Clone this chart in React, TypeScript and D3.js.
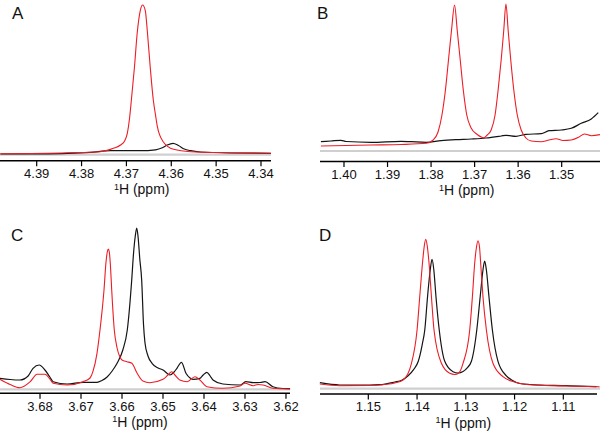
import React from "react";
import * as d3 from "d3";

type Pt = [number, number];

// Panel A (ppm, intensity)
const aRed: Pt[] = [[4.3981,0.6],[4.3831,1.6],[4.3758,2.6],[4.3729,6],[4.3713,9.3],[4.3704,13.3],[4.3698,21],[4.3693,36],[4.3689,54],[4.3682,87.6],[4.3676,121],[4.3669,144],[4.3664,149.3],[4.3658,144],[4.3653,121],[4.3647,87.6],[4.3640,54],[4.3635,39],[4.3631,27.6],[4.3618,12.6],[4.3595,5],[4.3557,2.6],[4.3468,1.6],[4.3378,1]];
const aBlack: Pt[] = [[4.3981,0.3],[4.3892,0.5],[4.3831,1],[4.3780,2],[4.3736,3.6],[4.3669,3.6],[4.3635,4.5],[4.3620,6.5],[4.3609,9.3],[4.3596,11],[4.3584,8.8],[4.3571,5.3],[4.3557,3.6],[4.3535,2.3],[4.3468,1.3],[4.3378,1]];

// Panel B
const bRed: Pt[] = [[1.4053,4.7],[1.3995,5.2],[1.3938,5.7],[1.3869,6.2],[1.3811,7.4],[1.3795,10.7],[1.3784,18.7],[1.3775,35.7],[1.3767,60.7],[1.3760,90.7],[1.3753,120.7],[1.3746,145.7],[1.3740,120.7],[1.3733,90.7],[1.3726,60.7],[1.3718,35.7],[1.3708,22.7],[1.3694,16.2],[1.3679,13],[1.3671,15.7],[1.3662,20.7],[1.3653,35.7],[1.3646,60.7],[1.3639,90.7],[1.3633,120.7],[1.3628,146.7],[1.3623,120.7],[1.3617,90.7],[1.3610,60.7],[1.3602,35.7],[1.3593,20.7],[1.3582,12.7],[1.3570,9.7],[1.3547,9],[1.3529,10.7],[1.3513,12],[1.3497,10.2],[1.3478,10.7],[1.3460,13.7],[1.3448,16.7],[1.3432,15],[1.3409,16.4]];
const bBlack: Pt[] = [[1.4053,9],[1.4030,9.7],[1.4007,10.4],[1.3995,9.2],[1.3938,8.4],[1.3869,9.4],[1.3846,9],[1.3811,8.4],[1.3777,10],[1.3743,11],[1.3708,11.7],[1.3674,12.7],[1.3639,14.7],[1.3628,15.4],[1.3605,14.4],[1.3582,16.4],[1.3547,17],[1.3529,20],[1.3501,20.7],[1.3478,22.4],[1.3455,27.4],[1.3432,31.7],[1.3416,38]];

// Panel C
const cRed: Pt[] = [[3.6898,9.7],[3.6873,4.5],[3.6849,1.3],[3.6824,7.3],[3.6807,14.7],[3.6788,14.7],[3.6776,10],[3.6768,5.7],[3.6734,4],[3.6695,7.3],[3.6678,11],[3.6671,17.3],[3.6661,35.7],[3.66537,59],[3.66439,99],[3.6639,127],[3.66359,137],[3.66334,140],[3.6631,137],[3.6628,122],[3.66251,99],[3.66188,59],[3.6612,41],[3.6605,32],[3.6600,29],[3.6588,27.3],[3.6576,25.7],[3.6563,15.7],[3.6549,8],[3.6532,6.3],[3.6500,9.7],[3.6488,14],[3.6479,17.3],[3.6471,14],[3.6459,9],[3.6441,7.3],[3.6422,12.3],[3.6410,9],[3.6393,2.3],[3.6354,0.7],[3.6312,3],[3.6300,5.7],[3.6280,3.3],[3.6268,4.5],[3.6256,4],[3.6232,0.7],[3.6190,0]];
const cBlack: Pt[] = [[3.6898,10.7],[3.6873,9.5],[3.6849,9],[3.6829,13],[3.6817,20.7],[3.6802,24],[3.6788,19],[3.6776,12],[3.6768,7.3],[3.6734,5],[3.6695,6.7],[3.6661,6.7],[3.6649,8.5],[3.6637,11.7],[3.6624,18],[3.6612,25.7],[3.6598,39],[3.65871,59],[3.65763,109],[3.6572,135],[3.65676,153],[3.65641,161],[3.6561,153],[3.65566,130],[3.6552,109],[3.65476,65],[3.65439,46],[3.65366,33],[3.65268,25.7],[3.6512,21],[3.6500,19],[3.6483,14],[3.6473,17],[3.6466,20.7],[3.6455,26.7],[3.6444,15.7],[3.6434,11],[3.6427,9.7],[3.6410,10.7],[3.6402,14],[3.6393,16.7],[3.6385,13],[3.6378,9],[3.6354,5],[3.6312,4],[3.6298,7.3],[3.6280,6.3],[3.6263,6.5],[3.6251,7.3],[3.6232,2.3],[3.6207,0.5],[3.6190,0.3]];

// Panel D
const dRed: Pt[] = [[1.15994,4.3],[1.15584,2.6],[1.14969,2.8],[1.14662,3.8],[1.14457,5.3],[1.14287,8.3],[1.14115,25],[1.14,58.3],[1.13945,91.6],[1.13889,125],[1.13852,142.3],[1.13822,149],[1.13791,142.3],[1.13754,125],[1.13705,91.6],[1.13652,58.3],[1.135,25],[1.1333,15],[1.13227,13.8],[1.13145,15.3],[1.13057,25],[1.1292,58.3],[1.12865,91.6],[1.12818,125],[1.12781,141.3],[1.1275,147.6],[1.12719,141.3],[1.12695,125],[1.12648,91.6],[1.12578,58.3],[1.12443,25],[1.12238,11.6],[1.11998,6.3],[1.11752,3.8],[1.11383,2.8],[1.10932,2.3],[1.10256,1.6]];
const dBlack: Pt[] = [[1.15994,5.6],[1.15584,3.3],[1.15174,3.1],[1.14764,3.6],[1.14457,6.3],[1.14314,8],[1.14184,12.5],[1.14068,19],[1.13975,27],[1.13893,44],[1.13842,58.3],[1.13785,91.6],[1.1373,118.3],[1.13693,129],[1.13656,118.3],[1.13612,91.6],[1.13545,58.3],[1.13432,27],[1.13262,16.6],[1.1316,15.3],[1.13057,16.8],[1.12971,20.5],[1.12885,27],[1.12775,58.3],[1.12705,91.6],[1.12648,118.3],[1.12613,127.3],[1.12578,118.3],[1.12525,91.6],[1.12455,58.3],[1.1234,27],[1.12168,12.5],[1.1206,8.3],[1.11895,4.8],[1.11691,3.8],[1.10932,2.6],[1.10318,1.6]];

const aTicks = [4.39, 4.38, 4.37, 4.36, 4.35, 4.34];
const bTicks = [1.40, 1.39, 1.38, 1.37, 1.36, 1.35];
const cTicks = [3.68, 3.67, 3.66, 3.65, 3.64, 3.63, 3.62];
const dTicks = [1.15, 1.14, 1.13, 1.12, 1.11];

const panelLabels = ["A", "B", "C", "D"];

const RED = "#ee1c25";
const BLACK = "#141414";
const FONT = "'Liberation Sans', Arial, sans-serif";

interface PanelCfg {
  label: string;
  red: Pt[];
  black: Pt[];
  ticks: number[];
  domain: [number, number];
  x0: number;
  x1: number;
  greyX1: number;
  base: number;
  axisY: number;
  titleX: number;
  labelX: number;
  labelY: number;
}

const panels: PanelCfg[] = [
  { label: panelLabels[0], red: aRed, black: aBlack, ticks: aTicks, domain: [4.39818, 4.33777], x0: 0, x1: 271, greyX1: 271, base: 154.3, axisY: 160.7, titleX: 141.7, labelX: 12, labelY: 18.5 },
  { label: panelLabels[1], red: bRed, black: bBlack, ticks: bTicks, domain: [1.40551, 1.3412], x0: 320, x1: 600, greyX1: 600, base: 150.7, axisY: 161.5, titleX: 466.7, labelX: 317, labelY: 18.5 },
  { label: panelLabels[2], red: cRed, black: cBlack, ticks: cTicks, domain: [3.68976, 3.61902], x0: 0, x1: 290, greyX1: 290, base: 389, axisY: 393.3, titleX: 140, labelX: 11, labelY: 241 },
  { label: panelLabels[3], red: dRed, black: dBlack, ticks: dTicks, domain: [1.15991, 1.10309], x0: 320, x1: 597, greyX1: 600, base: 388.3, axisY: 394, titleX: 463.3, labelX: 319, labelY: 240.5 },
];

function Panel({ p }: { p: PanelCfg }) {
  const x = d3.scaleLinear().domain(p.domain).range([p.x0, p.x1]);
  const y = d3.scaleLinear().domain([0, 150]).range([p.base, p.base - 150]);
  const line = d3
    .line<Pt>()
    .x((d) => x(d[0]))
    .y((d) => y(d[1]))
    .curve(d3.curveMonotoneX);
  return (
    <g>
      <line x1={p.x0} x2={p.greyX1} y1={p.base + 0.3} y2={p.base + 0.3} stroke="#cfcfcf" strokeWidth={2.2} />
      <path d={line(p.black) || ""} fill="none" stroke={BLACK} strokeWidth={1.2} strokeLinejoin="round" />
      <path d={line(p.red) || ""} fill="none" stroke={RED} strokeWidth={1.1} strokeLinejoin="round" />
      <line x1={p.x0} x2={p.x1} y1={p.axisY} y2={p.axisY} stroke="#000" strokeWidth={1.4} />
      {p.ticks.map((t) => (
        <g key={t} transform={`translate(${x(t)},0)`}>
          <line y1={p.axisY} y2={p.axisY + 5.5} stroke="#000" strokeWidth={1.2} />
          <text y={p.axisY + 17.3} textAnchor="middle" fontSize={13} fontFamily={FONT} fill="#111">
            {d3.format(".2f")(t)}
          </text>
        </g>
      ))}
      <text x={p.titleX} y={p.axisY + 33.5} textAnchor="middle" fontFamily={FONT} fontSize={14} fill="#111">
        <tspan fontSize={9} dy={-4.5}>1</tspan>
        <tspan dy={4.5}>H (ppm)</tspan>
      </text>
      <text x={p.labelX} y={p.labelY} fontFamily={FONT} fontSize={17} fill="#111">
        {p.label}
      </text>
    </g>
  );
}

export default function App() {
  return (
    <svg
      width={600}
      height={432}
      style={{ position: "fixed", left: 0, top: 0, background: "#fff" }}
    >
      <rect width={600} height={432} fill="#fff" />
      {panels.map((p) => (
        <Panel key={p.label} p={p} />
      ))}
    </svg>
  );
}
